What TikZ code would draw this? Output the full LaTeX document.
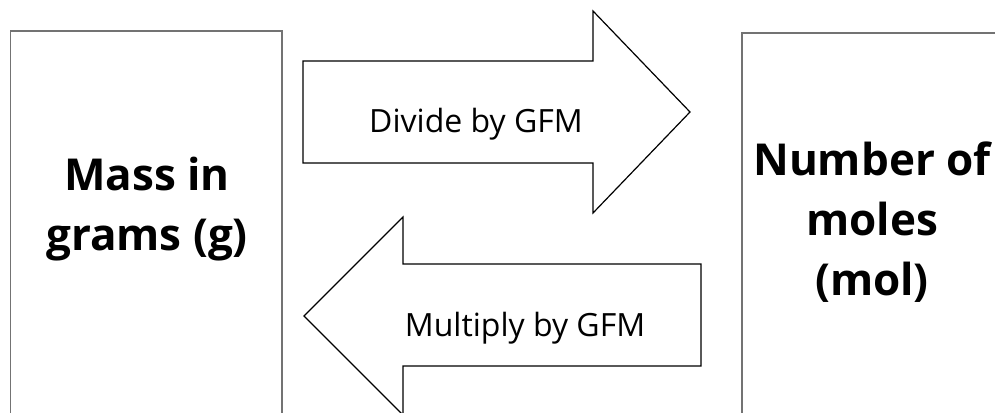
\documentclass[tikz,border=0pt]{standalone}
\usepackage{fontspec}
\setmainfont{Open Sans}
\begin{document}
\begin{tikzpicture}[x=1pt,y=-1pt,
  boxline/.style={draw=black!55,line width=1.4pt},
  arrowline/.style={draw=black,line width=1.2pt,line join=miter,fill=white},
  bigtext/.style={font=\fontsize{44}{60}\selectfont\bfseries,align=center,inner sep=0pt},
  arrtext/.style={font=\fontsize{32}{36}\selectfont,inner sep=0pt,anchor=base}]
\useasboundingbox (0,0) rectangle (995,412);
\clip (0,0) rectangle (995,412);
% boxes
\draw[boxline] (10.5,430) -- (10.5,31) -- (282,31) -- (282,430);
\draw[boxline] (742,430) -- (742,33) -- (1000,33);
% top arrow (right)
\draw[arrowline] (303,61) -- (593,61) -- (593,11) -- (690,112) -- (593,213) -- (593,163) -- (303,163) -- cycle;
% bottom arrow (left)
\draw[arrowline] (701,264) -- (403,264) -- (403,217) -- (304,316) -- (403,415) -- (403,366) -- (701,366) -- cycle;
\node[bigtext] (mass) at (147,209) {Mass in\\grams (g)};
\node[bigtext] (moles) at (872,222) {Number of\\moles\\(mol)};
\node[arrtext] (divide) at (476,132) {Divide by GFM};
\node[arrtext] (multiply) at (525,336) {Multiply by GFM};
\end{tikzpicture}
\end{document}
